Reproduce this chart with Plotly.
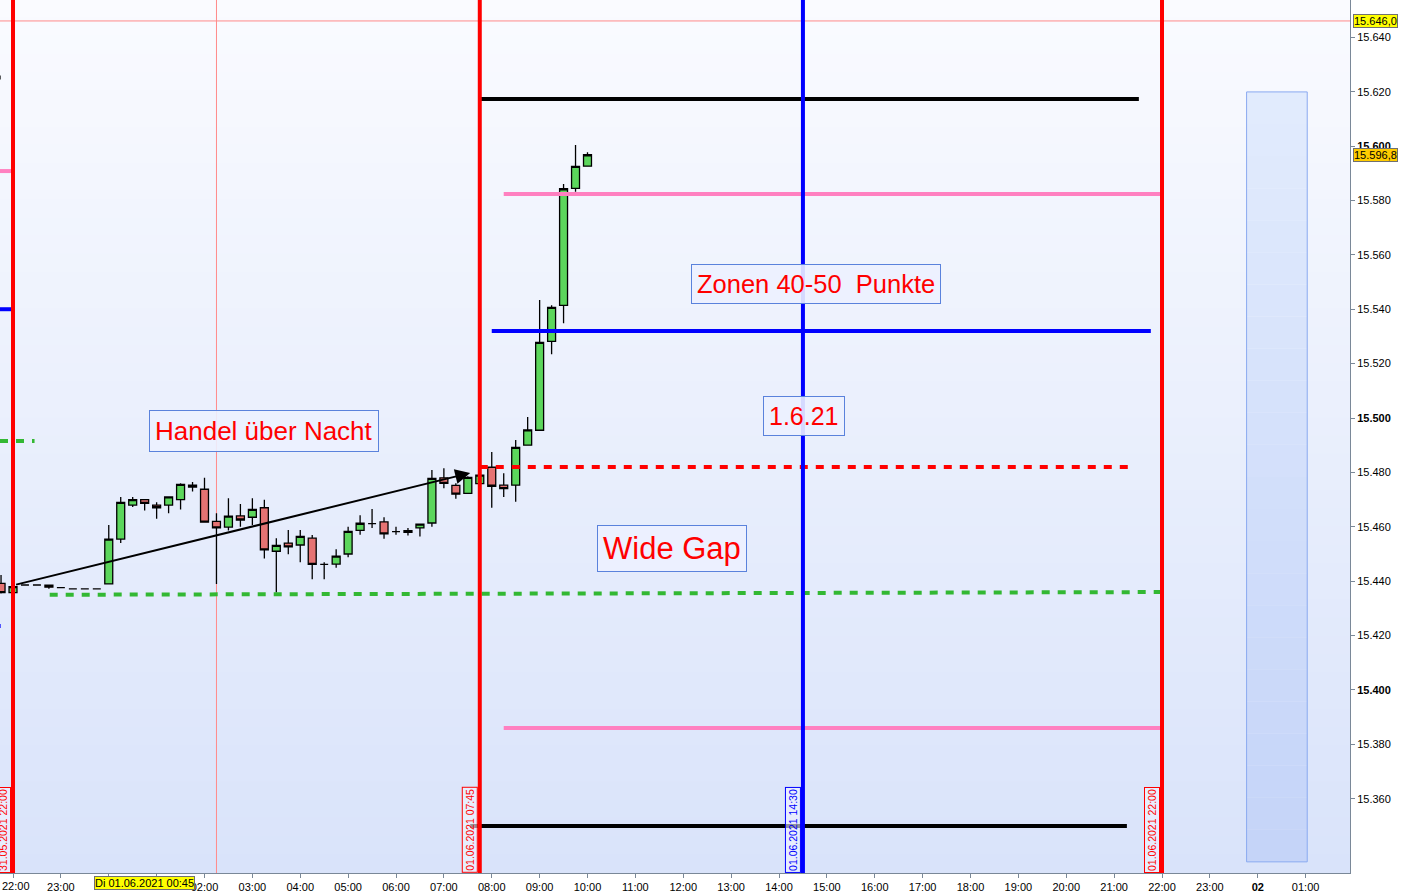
import pandas as pd
import plotly.graph_objects as go

# ---------------- data ----------------
start_time = "2021-05-31 21:45"
opens = [15439.2, 15435.8, 15438.6, 15438.6, 15438.5, 15437.6, 15437.2, 15437.2, 15437.2,
         15439.0, 15455.5, 15468.0, 15470.0, 15468.0, 15468.0, 15470.0, 15475.3,
         15473.8, 15462.0, 15459.9, 15464.0, 15463.5, 15467.0, 15451.0, 15454.0,
         15453.3, 15455.8, 15446.2, 15446.3, 15450.0, 15458.7, 15461.2, 15461.8,
         15458.2, 15458.0, 15459.6, 15461.4, 15478.0, 15475.2, 15472.3, 15475.9,
         15481.9, 15475.3, 15475.3, 15490.0, 15495.5, 15528.2, 15541.4, 15584.4, 15592.6]
highs = [15442.3, 15438.2, 15438.6, 15438.6, 15438.5, 15437.6, 15437.2, 15437.2, 15437.2,
         15460.7, 15471.0, 15471.0, 15470.0, 15469.0, 15471.0, 15476.0, 15476.5,
         15478.0, 15465.0, 15470.5, 15468.4, 15470.5, 15469.9, 15455.8, 15458.8,
         15458.8, 15457.0, 15447.0, 15451.7, 15460.0, 15464.2, 15466.5, 15463.5,
         15460.0, 15459.6, 15461.0, 15480.9, 15481.5, 15476.0, 15478.6, 15480.0,
         15487.5, 15479.7, 15491.9, 15500.4, 15543.4, 15541.5, 15586.0, 15600.4, 15597.7]
lows = [15435.5, 15435.8, 15438.6, 15438.6, 15437.2, 15437.6, 15437.2, 15437.2, 15437.2,
        15439.0, 15454.0, 15467.3, 15466.0, 15463.0, 15465.0, 15466.4, 15473.0,
        15461.7, 15439.0, 15458.6, 15460.0, 15460.7, 15448.3, 15435.8, 15449.9,
        15447.0, 15440.7, 15440.7, 15444.9, 15448.8, 15457.1, 15459.6, 15455.6,
        15457.1, 15456.8, 15456.4, 15460.0, 15474.2, 15470.3, 15472.3, 15475.5,
        15467.0, 15471.0, 15469.2, 15490.0, 15495.5, 15523.4, 15534.8, 15583.2, 15592.6]
closes = [15435.8, 15438.0, 15438.6, 15438.6, 15437.8, 15437.6, 15437.2, 15437.2, 15437.2,
          15455.5, 15469.0, 15470.0, 15468.6, 15467.0, 15471.0, 15475.6, 15474.6,
          15461.7, 15459.6, 15463.9, 15462.5, 15466.4, 15451.5, 15453.2, 15452.6,
          15456.5, 15446.2, 15446.2, 15449.2, 15458.3, 15461.3, 15461.2, 15457.4,
          15458.2, 15458.6, 15461.0, 15477.8, 15476.0, 15472.0, 15478.2, 15479.0,
          15474.9, 15474.0, 15489.2, 15495.6, 15527.8, 15540.7, 15584.3, 15592.5, 15596.8]
times = pd.date_range(start_time, periods=len(opens), freq="15min")

# zone lines of the day
level_start_times = ["2021-06-01 07:46", "2021-06-01 08:15", "2021-06-01 08:00", "2021-06-01 07:45",
                     "2021-05-31 22:46", "2021-06-01 08:15", "2021-06-01 07:33"]
level_end_times = ["2021-06-01 21:31", "2021-06-01 22:00", "2021-06-01 21:46", "2021-06-01 21:20",
                   "2021-06-01 22:00", "2021-06-01 22:00", "2021-06-01 21:16"]
level_start_values = [15617.3, 15582.4, 15532.0, 15482.0, 15435.0, 15386.0, 15350.0]
level_end_values = [15617.3, 15582.4, 15532.0, 15482.0, 15436.0, 15386.0, 15350.0]
level_colors = ["#000000", "#ff80c0", "#0000ff", "#ff0000", "#33b833", "#ff80c0", "#000000"]
level_dashes = ["solid", "solid", "solid", "8px,8px", "8px,8px", "solid", "solid"]

# remnants of previous-day lines at the left edge
prev_end_times = ["2021-05-31 21:44:30", "2021-05-31 22:00", "2021-05-31 22:00",
                  "2021-05-31 22:27", "2021-05-31 21:44:30"]
prev_values = [15625.2, 15590.8, 15540.0, 15491.5, 15423.5]
prev_colors = ["#000000", "#ff80c0", "#0000ff", "#33b833", "#0000ff"]
prev_dashes = ["solid", "solid", "solid", "8px,8px", "solid"]

# vertical session markers
vline_times = ["2021-05-31 22:00", "2021-06-01 07:45", "2021-06-01 14:30", "2021-06-01 22:00"]
vline_colors = ["#ff0000", "#ff0000", "#0000ff", "#ff0000"]
vline_labels = ["31.05.2021 22:00", "01.06.2021 07:45", "01.06.2021 14:30", "01.06.2021 22:00"]

# arrow "Handel über Nacht"
arrow_times = ["2021-05-31 22:02", "2021-06-01 07:33"]
arrow_values = [15438.6, 15479.8]

# crosshair
cross_time = "2021-06-01 02:15"
cross_value = 15646.0
cross_label = "Di 01.06.2021 00:45"
cross_label_time = "2021-06-01 00:45"

# price tags
tag_values = [15646.0, 15596.8]
tag_texts = ["15.646,0", "15.596,8"]
tag_colors = ["#ffff00", "#ffcc00"]

# forecast box
box_times = ["2021-06-01 23:46", "2021-06-02 01:02"]
box_values = [15336.8, 15619.9]

# text boxes
note_texts = ["Handel über Nacht", "Zonen 40-50  Punkte", "1.6.21", "Wide Gap"]
note_times = ["2021-06-01 03:14", "2021-06-01 14:46", "2021-06-01 14:31", "2021-06-01 11:46"]
note_values = [15495.2, 15549.1, 15500.9, 15452.0]
note_sizes = [26, 25.5, 25, 31]

# axes
y_tick_values = list(range(15360, 15641, 20))
y_tick_labels = ["15.360", "15.380", "<b>15.400</b>", "15.420", "15.440", "15.460", "15.480",
                 "<b>15.500</b>", "15.520", "15.540", "15.560", "15.580", "<b>15.600</b>",
                 "15.620", "15.640"]
x_tick_values = pd.date_range("2021-05-31 22:00", "2021-06-02 01:00", freq="1h")
x_tick_labels = ["22:00", "23:00", "<b>01</b>", "01:00", "02:00", "03:00", "04:00", "05:00",
                 "06:00", "07:00", "08:00", "09:00", "10:00", "11:00", "12:00", "13:00",
                 "14:00", "15:00", "16:00", "17:00", "18:00", "19:00", "20:00", "21:00",
                 "22:00", "23:00", "<b>02</b>", "01:00"]
x_range = ["2021-05-31 21:43:42", "2021-06-02 01:55:37"]
y_range = [15332.7, 15653.7]

FONT = "Arial, Liberation Sans, sans-serif"

# labels hidden under the crosshair time label / drawn separately at the left edge
covered = {0, 2, 3}
x_tick_display = ["" if i in covered else lab for i, lab in enumerate(x_tick_labels)]

fig = go.Figure()

# background gradient bands
shapes = []
n_bands = 48
top_c = (250, 251, 255)
bot_c = (217, 227, 250)
for i in range(n_bands):
    t = (i + 0.5) / n_bands
    c = tuple(int(round(top_c[k] + (bot_c[k] - top_c[k]) * t)) for k in range(3))
    shapes.append(dict(type="rect", xref="paper", yref="paper", x0=0, x1=1,
                       y0=1 - (i + 1) / n_bands, y1=1 - i / n_bands + 0.001,
                       fillcolor="rgb(%d,%d,%d)" % c, line=dict(width=0), layer="below"))

# forecast box (gradient)
nb = 24
bt = (226, 235, 253)
bb = (196, 212, 248)
span = box_values[1] - box_values[0]
for i in range(nb):
    t = (i + 0.5) / nb
    c = tuple(int(round(bt[k] + (bb[k] - bt[k]) * t)) for k in range(3))
    shapes.append(dict(type="rect", xref="x", yref="y", x0=box_times[0], x1=box_times[1],
                       y0=box_values[1] - span * (i + 1) / nb, y1=box_values[1] - span * i / nb,
                       fillcolor="rgb(%d,%d,%d)" % c, line=dict(width=0), layer="below"))
shapes.append(dict(type="rect", xref="x", yref="y", x0=box_times[0], x1=box_times[1],
                   y0=box_values[0], y1=box_values[1], line=dict(color="#8aaaf0", width=1),
                   fillcolor="rgba(0,0,0,0)", layer="below"))

# crosshair
shapes.append(dict(type="line", xref="x", yref="paper", x0=cross_time, x1=cross_time, y0=0, y1=1,
                   line=dict(color="#ff8a8a", width=1), layer="below"))
shapes.append(dict(type="line", xref="paper", yref="y", x0=0, x1=1, y0=cross_value, y1=cross_value,
                   line=dict(color="#ff8a8a", width=1), layer="below"))

fig.update_layout(shapes=shapes)

# candles
fig.add_trace(go.Candlestick(
    x=times, open=opens, high=highs, low=lows, close=closes,
    increasing=dict(fillcolor="#5cd65c", line=dict(color="#000000", width=1.3)),
    decreasing=dict(fillcolor="#e57373", line=dict(color="#000000", width=1.3)),
    whiskerwidth=0, hoverinfo="skip", showlegend=False))

# previous-day remnants
for t_end, v, col, d in zip(prev_end_times, prev_values, prev_colors, prev_dashes):
    fig.add_shape(type="line", xref="x", yref="y", x0=x_range[0], x1=t_end, y0=v, y1=v,
                  line=dict(color=col, width=4, dash=d))

# zone lines
for t0, t1, v0, v1, col, d in zip(level_start_times, level_end_times, level_start_values,
                                  level_end_values, level_colors, level_dashes):
    fig.add_shape(type="line", xref="x", yref="y", x0=t0, x1=t1, y0=v0, y1=v1,
                  line=dict(color=col, width=4, dash=d))

# vertical markers
for t, col in zip(vline_times, vline_colors):
    fig.add_shape(type="line", xref="x", yref="paper", x0=t, x1=t, y0=0, y1=1,
                  line=dict(color=col, width=4))

annotations = []
for t, col, lab in zip(vline_times, vline_colors, vline_labels):
    annotations.append(dict(x=t, xref="x", y=0, yref="paper", text=lab, textangle=-90,
                            xanchor="right", yanchor="bottom", xshift=-2, showarrow=False,
                            font=dict(family=FONT, size=10.5, color=col),
                            bordercolor=col, borderwidth=1, borderpad=1,
                            bgcolor="rgba(240,244,255,0.6)"))

# arrow
annotations.append(dict(x=arrow_times[1], y=arrow_values[1], xref="x", yref="y",
                        ax=arrow_times[0], ay=arrow_values[0], axref="x", ayref="y",
                        showarrow=True, arrowhead=2, arrowsize=1.5, arrowwidth=2,
                        arrowcolor="#000000", text=""))

# text boxes
for txt, t, v, s in zip(note_texts, note_times, note_values, note_sizes):
    annotations.append(dict(x=t, y=v, xref="x", yref="y", text=txt, showarrow=False,
                            font=dict(family=FONT, size=s, color="#ff0000"),
                            bgcolor="rgba(236,241,255,0.9)", bordercolor="#5a82dc",
                            borderwidth=1, borderpad=5))

# price tags
for v, txt, col in zip(tag_values, tag_texts, tag_colors):
    annotations.append(dict(x=1, xref="paper", y=v, yref="y", text=txt, showarrow=False,
                            xanchor="left", xshift=3, font=dict(family=FONT, size=11, color="#000000"),
                            bgcolor=col, bordercolor="#707070", borderwidth=1, borderpad=0))

# crosshair time label
annotations.append(dict(x=cross_label_time, xref="x", y=0, yref="paper", text=cross_label,
                        showarrow=False, yanchor="top", yshift=-3,
                        font=dict(family=FONT, size=11, color="#000000"),
                        bgcolor="#ffff00", bordercolor="#707070", borderwidth=1, borderpad=0))

# first time label, pushed inside the left edge
annotations.append(dict(x=0, xref="paper", y=0, yref="paper", text=x_tick_labels[0],
                        showarrow=False, xanchor="left", yanchor="top", yshift=-5,
                        font=dict(family=FONT, size=11, color="#000000")))

fig.update_layout(
    annotations=annotations,
    width=1402, height=892,
    margin=dict(l=0, r=52, t=0, b=19),
    paper_bgcolor="#ffffff", plot_bgcolor="#eef2fd",
    showlegend=False, hovermode=False,
    boxgap=0.3, boxgroupgap=0.05,
    font=dict(family=FONT, size=11, color="#000000"),
    xaxis=dict(type="date", range=x_range, rangeslider=dict(visible=False),
               tickvals=x_tick_values, ticktext=x_tick_display, ticks="outside", ticklen=4,
               tickcolor="#7a8898", showgrid=False, zeroline=False, showline=True,
               linecolor="#7a8898", linewidth=1, tickfont=dict(size=11, family=FONT)),
    yaxis=dict(range=y_range, side="right", tickvals=y_tick_values, ticktext=y_tick_labels,
               ticks="outside", ticklen=4, tickcolor="#7a8898", showgrid=False,
               zeroline=False, showline=True, linecolor="#7a8898", linewidth=1,
               tickfont=dict(size=11, family=FONT)),
)

fig.write_html("out.html", config={"displayModeBar": False},
               post_script="document.body.style.margin='0';document.body.style.overflow='hidden';")
